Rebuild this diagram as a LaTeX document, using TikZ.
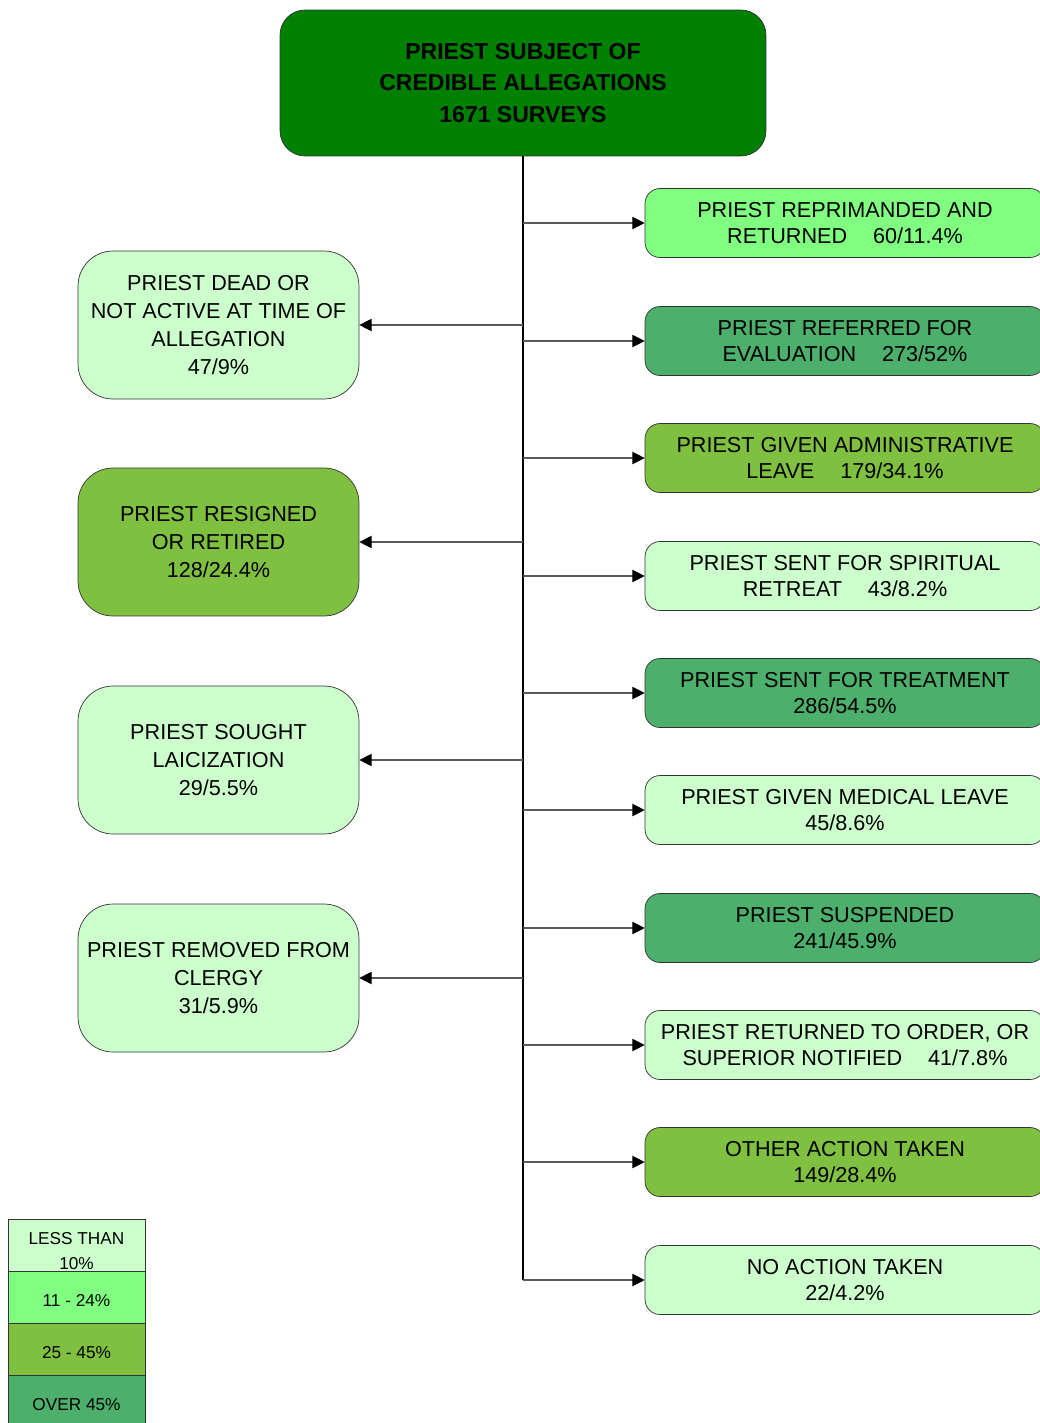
\documentclass[tikz,border=0pt]{standalone}
\usepackage{fontspec}
\setmainfont{Liberation Sans}
\usetikzlibrary{arrows.meta}
\definecolor{topgreen}{HTML}{008000}
\definecolor{lowgreen}{HTML}{CCFFCC}
\definecolor{brightgreen}{HTML}{80FF80}
\definecolor{olivegreen}{HTML}{80C040}
\definecolor{highgreen}{HTML}{4CB06C}
\begin{document}
\begin{tikzpicture}[x=0.02cm,y=-0.02cm,
  topbox/.style={draw=black!80,fill=topgreen,rounded corners=0.5cm,minimum width=9.72cm,minimum height=2.92cm,align=center,font=\fontsize{13.1}{18}\selectfont\bfseries},
  rightbox/.style={draw=black!80,rounded corners=0.3cm,minimum width=8cm,minimum height=1.38cm,align=center,font=\fontsize{12.3}{15.3}\selectfont},
  leftbox/.style={draw=black!80,rounded corners=0.7cm,minimum width=5.62cm,minimum height=2.96cm,align=center,font=\fontsize{12.3}{15.9}\selectfont},
  branch/.style={draw=black!65,line width=0.6pt,-{Triangle[length=7pt,width=7pt,color=black]}},
  trunk/.style={draw=black,line width=1.1pt},
  legcell/.style={draw=black!80,minimum width=2.74cm,minimum height=1.04cm},
  legtext/.style={align=center,font=\fontsize{9.8}{14.7}\selectfont}]
\useasboundingbox (0,0) rectangle (1039,1423);

% top
\node[topbox] (top) at (523,83) {PRIEST SUBJECT OF\\CREDIBLE ALLEGATIONS\\1671 SURVEYS};

% right column
\node[rightbox,fill=brightgreen] (r1) at (845,223) {PRIEST REPRIMANDED AND\\RETURNED\hspace{1.2em}60/11.4\%};
\node[rightbox,fill=highgreen] (r2) at (845,341) {PRIEST REFERRED FOR\\EVALUATION\hspace{1.2em}273/52\%};
\node[rightbox,fill=olivegreen] (r3) at (845,458) {PRIEST GIVEN ADMINISTRATIVE\\LEAVE\hspace{1.2em}179/34.1\%};
\node[rightbox,fill=lowgreen] (r4) at (845,576) {PRIEST SENT FOR SPIRITUAL\\RETREAT\hspace{1.2em}43/8.2\%};
\node[rightbox,fill=highgreen] (r5) at (845,693) {PRIEST SENT FOR TREATMENT\\286/54.5\%};
\node[rightbox,fill=lowgreen] (r6) at (845,810) {PRIEST GIVEN MEDICAL LEAVE\\45/8.6\%};
\node[rightbox,fill=highgreen] (r7) at (845,928) {PRIEST SUSPENDED\\241/45.9\%};
\node[rightbox,fill=lowgreen] (r8) at (845,1045) {PRIEST RETURNED TO ORDER, OR\\SUPERIOR NOTIFIED\hspace{1.2em}41/7.8\%};
\node[rightbox,fill=olivegreen] (r9) at (845,1162) {OTHER ACTION TAKEN\\149/28.4\%};
\node[rightbox,fill=lowgreen] (r10) at (845,1280) {NO ACTION TAKEN\\22/4.2\%};

% left column
\node[leftbox,fill=lowgreen] (l1) at (218.5,325) {PRIEST DEAD OR\\NOT ACTIVE AT TIME OF\\ALLEGATION\\47/9\%};
\node[leftbox,fill=olivegreen] (l2) at (218.5,542) {PRIEST RESIGNED\\OR RETIRED\\128/24.4\%};
\node[leftbox,fill=lowgreen] (l3) at (218.5,760) {PRIEST SOUGHT\\LAICIZATION\\29/5.5\%};
\node[leftbox,fill=lowgreen] (l4) at (218.5,978) {PRIEST REMOVED FROM\\CLERGY\\31/5.9\%};

% connectors
\draw[trunk] (top.south) -- (top.south |- r10.west);
\foreach \n in {r1,r2,r3,r4,r5,r6,r7,r8,r9,r10}
  \draw[branch] (top.south |- \n.west) -- (\n.west);
\foreach \n in {l1,l2,l3,l4}
  \draw[branch] (top.south |- \n.east) -- (\n.east);

% legend
\node[legcell,fill=lowgreen,label={[legtext,yshift=-3.4pt]center:LESS THAN\\10\%}] (leg1) at (76.5,1245) {};
\node[legcell,fill=brightgreen,label={[legtext,yshift=-2pt]center:11 - 24\%}] (leg2) at (76.5,1297) {};
\node[legcell,fill=olivegreen,label={[legtext,yshift=-2pt]center:25 - 45\%}] (leg3) at (76.5,1349) {};
\node[legcell,fill=highgreen,label={[legtext,yshift=-2pt]center:OVER 45\%}] (leg4) at (76.5,1401) {};
\end{tikzpicture}
\end{document}
